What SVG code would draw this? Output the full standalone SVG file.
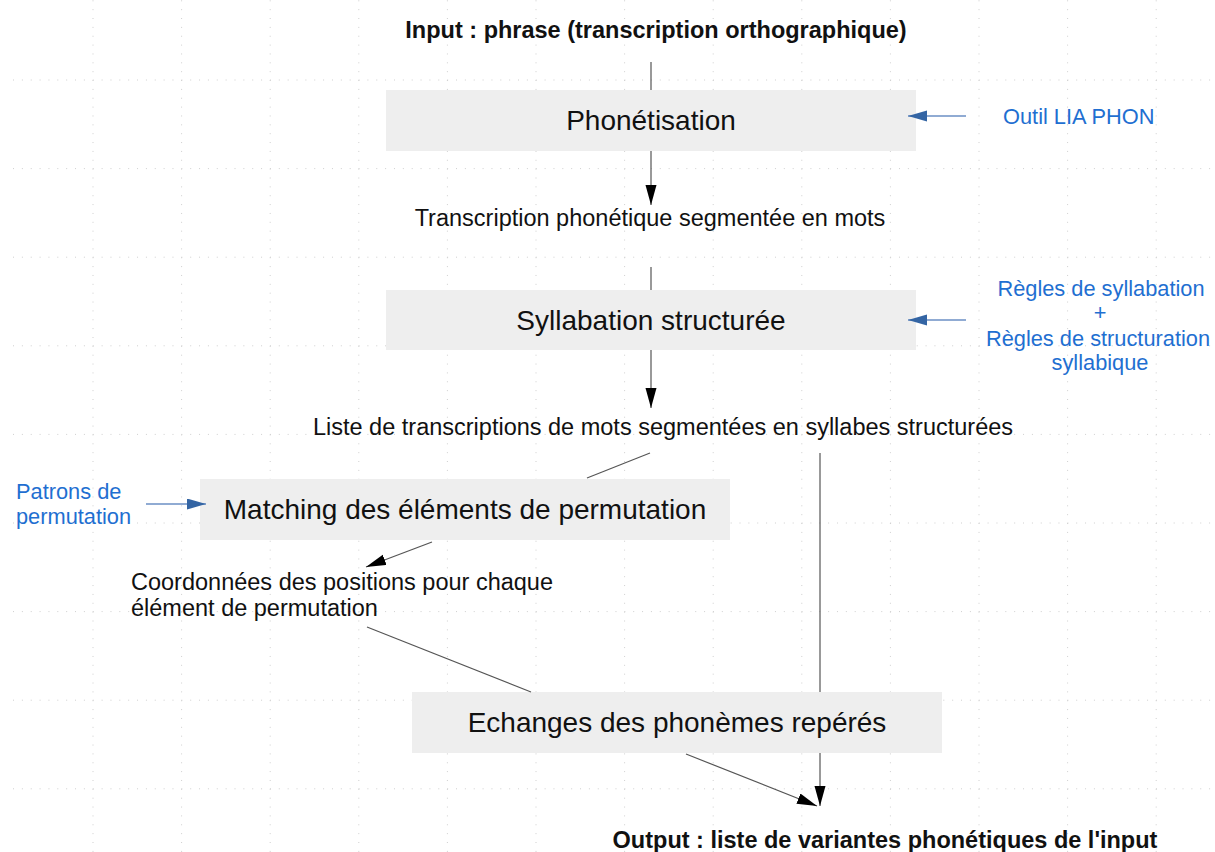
<svg xmlns="http://www.w3.org/2000/svg" width="1215" height="852" viewBox="0 0 1215 852">
<style>
.bg{fill:#ffffff}
.gh{stroke:#cfcfcf;stroke-width:1;stroke-dasharray:1 7.86;fill:none}
.box{fill:#eeeeee;stroke:none}
.bt{font-family:"Liberation Sans",Arial,sans-serif;font-size:28px;fill:#111111;text-anchor:middle}
.lt{font-family:"Liberation Sans",Arial,sans-serif;font-size:23.5px;fill:#111111}
.bold{font-weight:bold}
.mid{text-anchor:middle}
.blue{font-family:"Liberation Sans",Arial,sans-serif;font-size:21.8px;fill:#1f6fd1}
.c{stroke:#555555;stroke-width:1.2;fill:none}
.cb{stroke:#6b8fc4;stroke-width:1.3;fill:none}
</style>
<defs>
<marker id="ah" markerUnits="userSpaceOnUse" markerWidth="20" markerHeight="12" refX="20" refY="5.5" orient="auto">
<path d="M0,0 L20,5.5 L0,11 z" fill="#000000"/>
</marker>
<marker id="ahb" markerUnits="userSpaceOnUse" markerWidth="20" markerHeight="12" refX="19" refY="5.5" orient="auto">
<path d="M0,0 L19,5.5 L0,11 z" fill="#3465a4"/>
</marker>
</defs>
<rect class="bg" x="0" y="0" width="1215" height="852"/>
<g id="grid">
<path class="gh" d="M13,80H1215M13,168.6H1215M13,257.2H1215M13,345.8H1215M13,434.4H1215M13,523H1215M13,611.6H1215M13,700.2H1215M13,788.8H1215"/>
<path class="gh" d="M93,0.3V852M181.6,0.3V852M270.2,0.3V852M358.8,0.3V852M447.4,0.3V852M536,0.3V852M624.6,0.3V852M713.2,0.3V852M801.8,0.3V852M890.4,0.3V852M979,0.3V852M1067.6,0.3V852M1156.2,0.3V852"/>
</g>
<g id="input"><text class="lt bold mid" x="656" y="38">Input : phrase (transcription orthographique)</text></g>
<g id="phonetisation"><rect class="box" x="386" y="90" width="530" height="61"/><text class="bt" x="651" y="130">Phonétisation</text></g>
<g id="outil"><text class="blue" x="1003" y="124">Outil LIA PHON</text></g>
<g id="transcription"><text class="lt mid" x="650" y="226">Transcription phonétique segmentée en mots</text></g>
<g id="syllabation"><rect class="box" x="386" y="290" width="530" height="60"/><text class="bt" x="651" y="330">Syllabation structurée</text></g>
<g id="regles"><text class="blue mid"><tspan x="1101" y="296">Règles de syllabation</tspan><tspan x="1100" y="320">+</tspan><tspan x="1098" y="346">Règles de structuration</tspan><tspan x="1100" y="370">syllabique</tspan></text></g>
<g id="liste"><text class="lt mid" x="663" y="435">Liste de transcriptions de mots segmentées en syllabes structurées</text></g>
<g id="patrons"><text class="blue"><tspan x="16" y="499">Patrons de</tspan><tspan x="16" y="524">permutation</tspan></text></g>
<g id="matching"><rect class="box" x="200" y="479" width="530" height="61"/><text class="bt" x="465" y="519">Matching des éléments de permutation</text></g>
<g id="coordonnees"><text class="lt"><tspan x="131" y="590">Coordonnées des positions pour chaque</tspan><tspan x="131" y="616">élément de permutation</tspan></text></g>
<g id="echanges"><rect class="box" x="412" y="692" width="530" height="61"/><text class="bt" x="677" y="732">Echanges des phonèmes repérés</text></g>
<g id="output"><text class="lt bold mid" x="885" y="848">Output : liste de variantes phonétiques de l'input</text></g>
<g id="connectors">
<path class="c" d="M651,62V90"/>
<path class="c" d="M651,151V205" marker-end="url(#ah)"/>
<path class="c" d="M651,267V290"/>
<path class="c" d="M651,350V408" marker-end="url(#ah)"/>
<path class="c" d="M650,453L587,478"/>
<path class="c" d="M820,453V692"/>
<path class="c" d="M432,542L366,567" marker-end="url(#ah)"/>
<path class="c" d="M367,627L531,692"/>
<path class="c" d="M686,754L817,806" marker-end="url(#ah)"/>
<path class="c" d="M820,753V806" marker-end="url(#ah)"/>
<path class="cb" d="M966,116H908" marker-end="url(#ahb)"/>
<path class="cb" d="M966,320H908" marker-end="url(#ahb)"/>
<path class="cb" d="M146,504H206" marker-end="url(#ahb)"/>
</g>
</svg>
